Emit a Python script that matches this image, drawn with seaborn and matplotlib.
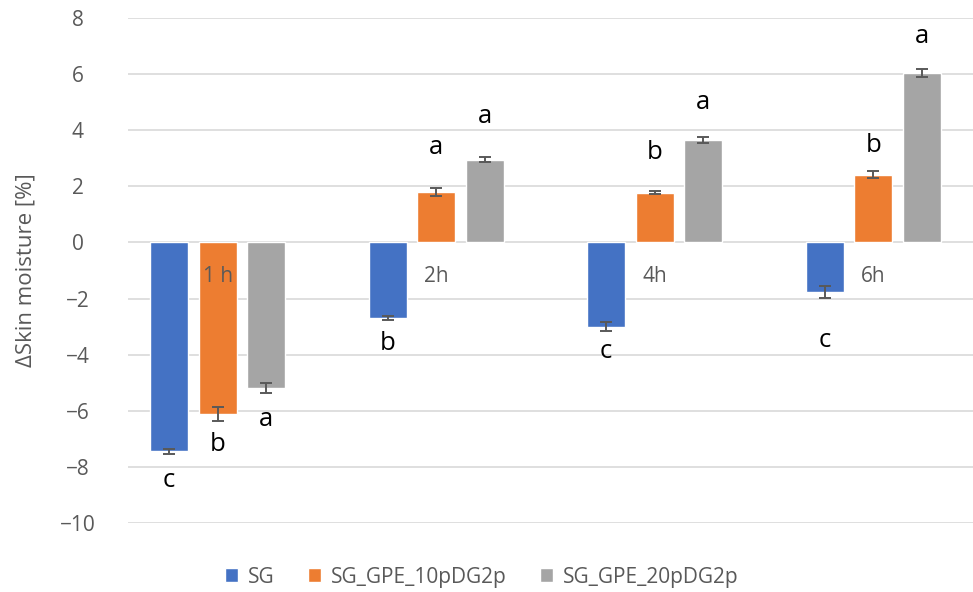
import numpy as np
import pandas as pd
import matplotlib
matplotlib.use("Agg")
import matplotlib.pyplot as plt
import seaborn as sns

# ---- data ----
times = ["1 h", "2h", "4h", "6h"]
series = ["SG", "SG_GPE_10pDG2p", "SG_GPE_20pDG2p"]
sg_vals = [-7.45, -2.70, -3.00, -1.77]
sg_err = [0.10, 0.07, 0.15, 0.20]
p10_vals = [-6.11, 1.80, 1.78, 2.41]
p10_err = [0.25, 0.14, 0.05, 0.12]
p20_vals = [-5.19, 2.95, 3.66, 6.05]
p20_err = [0.18, 0.10, 0.10, 0.15]
sg_letters = ["c", "b", "c", "c"]
p10_letters = ["b", "a", "b", "b"]
p20_letters = ["a", "a", "a", "a"]
sg_letter_y = [-8.5, -3.6, -3.9, -3.5]
p10_letter_y = [-7.2, 3.4, 3.2, 3.45]
p20_letter_y = [-6.3, 4.5, 5.0, 7.35]
yticks = [8, 6, 4, 2, 0, -2, -4, -6, -8, -10]

colors = ["#4472C4", "#ED7D31", "#A5A5A5"]

df = pd.DataFrame({
    "time": times * 3,
    "series": [s for s in series for _ in times],
    "value": sg_vals + p10_vals + p20_vals,
})
errs = {series[0]: sg_err, series[1]: p10_err, series[2]: p20_err}
letters = {series[0]: sg_letters, series[1]: p10_letters, series[2]: p20_letters}
letter_y = {series[0]: sg_letter_y, series[1]: p10_letter_y, series[2]: p20_letter_y}

sns.set_theme(style="white")
plt.rcParams["font.family"] = ["Open Sans", "DejaVu Sans"]

fig = plt.figure(figsize=(9.73, 5.92), dpi=100)
ax = fig.add_axes([128 / 973, 1 - 523 / 592, 845 / 973, 505 / 592])

sns.barplot(data=df, x="time", y="value", hue="series", hue_order=series,
            palette=colors, width=0.666, gap=0.216, errorbar=None,
            saturation=1, ax=ax, legend=True, zorder=3)

for cont, name in zip(ax.containers, series):
    xs = [p.get_x() + p.get_width() / 2 for p in cont.patches]
    vals = df.loc[df.series == name, "value"].to_list()
    ax.errorbar(xs, vals, yerr=errs[name], fmt="none", ecolor="#595959",
                elinewidth=1.4, capsize=4.5, capthick=1.4, zorder=4)
    for x, lab, ly in zip(xs, letters[name], letter_y[name]):
        ax.text(x, ly, lab, ha="center", va="center", fontsize=18.5, color="black")

for i, t in enumerate(times):
    ax.text(i, -1.2, t, ha="center", va="center", fontsize=15, color="#595959")

ax.set_ylim(-10, 8)
ax.set_xlim(-0.41, 3.457)
ax.set_yticks(yticks)
ax.yaxis.grid(True, color="#d9d9d9", lw=1.2, zorder=0)
ax.set_axisbelow(True)
ax.tick_params(axis="y", length=0, pad=36, labelsize=15, labelcolor="#595959")
for lbl in ax.get_yticklabels():
    lbl.set_horizontalalignment("center")
ax.set_xticks([])
ax.set_xlabel("")
ax.set_ylabel("ΔSkin moisture [%]", fontsize=16, color="#595959")
ax.yaxis.set_label_coords(-0.108, 0.5)
for s in ax.spines.values():
    s.set_visible(False)

handles, labels = ax.get_legend_handles_labels()
ax.legend_.remove()
fig.legend(handles, labels, loc="center", bbox_to_anchor=(0.495, 0.025),
           ncol=3, frameon=False, fontsize=15, labelcolor="#595959",
           handlelength=0.65, handleheight=0.65, handletextpad=0.45,
           columnspacing=1.6)

fig.savefig("out.png", dpi=100)
